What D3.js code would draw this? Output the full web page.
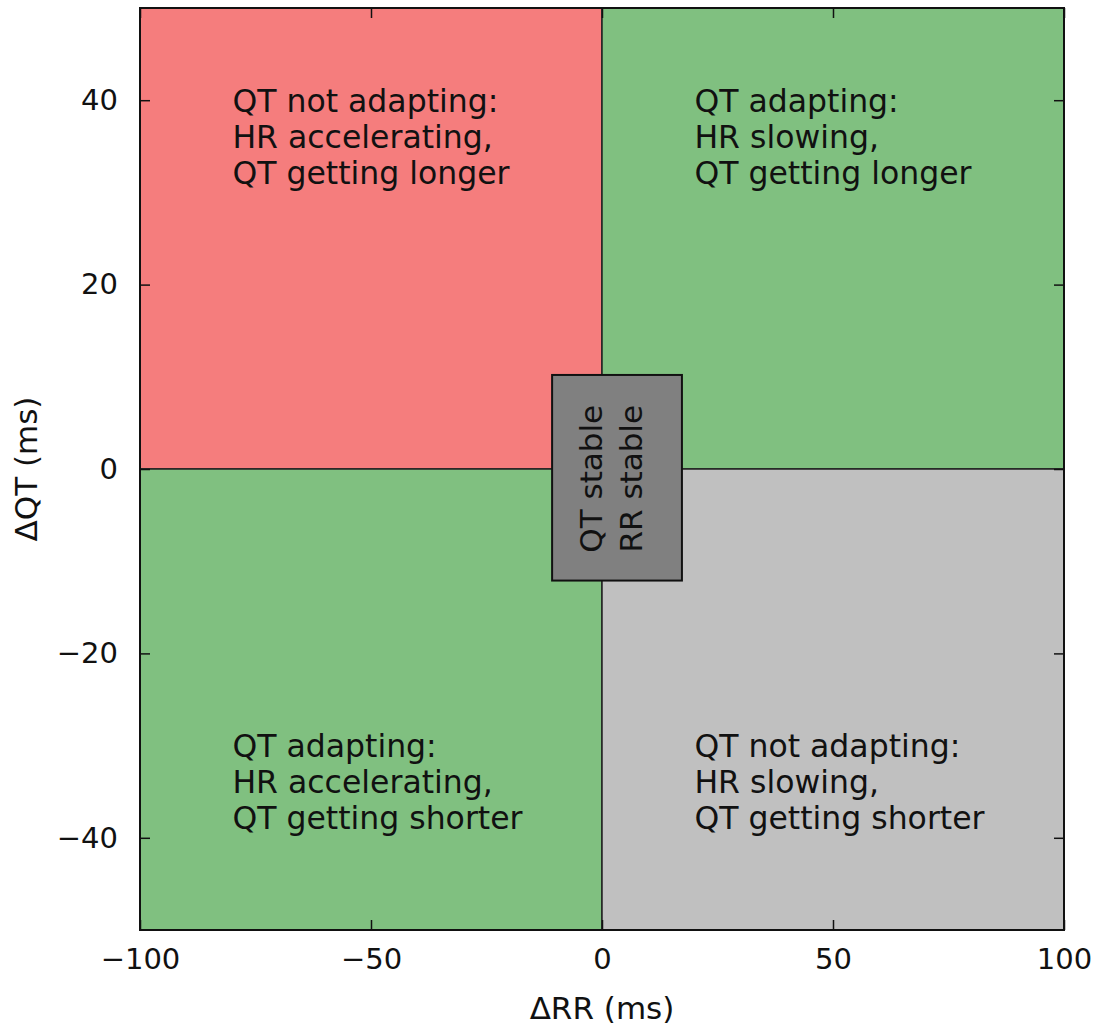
<!DOCTYPE html>
<html>
<head>
<meta charset="utf-8">
<script src="https://cdn.jsdelivr.net/npm/d3@7"></script>
<style>
  body { margin: 0; background: #fff; }
  text { font-family: "DejaVu Sans", sans-serif; fill: #111; }
</style>
</head>
<body>
<div id="chart"></div>
<script>
// quadrant regions in data coords (ΔRR, ΔQT)
var quadrants = [
  {x0: -100, x1: 0, y0: 0, y1: 50, fill: "#f57d7d"},
  {x0: 0, x1: 100, y0: 0, y1: 50, fill: "#80c080"},
  {x0: -100, x1: 0, y0: -50, y1: 0, fill: "#80c080"},
  {x0: 0, x1: 100, y0: -50, y1: 0, fill: "#c0c0c0"}
]
var notes = [
  {x: -80, y: 36, lines: ["QT not adapting:", "HR accelerating,", "QT getting longer"]},
  {x: 20, y: 36, lines: ["QT adapting:", "HR slowing,", "QT getting longer"]},
  {x: -80, y: -34, lines: ["QT adapting:", "HR accelerating,", "QT getting shorter"]},
  {x: 20, y: -34, lines: ["QT not adapting:", "HR slowing,", "QT getting shorter"]}
]
var stableBox = {x0: -10.8, x1: 17.3, y0: -12.1, y1: 10.2}
var stableLines = ["QT stable", "RR stable"]
var xTicks = [-100, -50, 0, 50, 100]
var yTicks = [-40, -20, 0, 20, 40]

var W = 1096, H = 1028
var m = {left: 140, right: 1064, top: 8, bottom: 930}

var svg = d3.select("#chart").append("svg")
  .attr("width", W).attr("height", H)

var x = d3.scaleLinear().domain([-100, 100]).range([m.left, m.right])
var y = d3.scaleLinear().domain([-50, 50]).range([m.bottom, m.top])

svg.selectAll("rect.quad").data(quadrants)
  .enter().append("rect")
    .attr("class", "quad")
    .attr("x", d => x(d.x0))
    .attr("y", d => y(d.y1))
    .attr("width", d => x(d.x1) - x(d.x0))
    .attr("height", d => y(d.y0) - y(d.y1))
    .attr("fill", d => d.fill)
    .attr("stroke", "#222")
    .attr("stroke-width", 1.5)

// annotation text, centred on the middle line
var lh = 36
notes.forEach(function(n) {
  var t = svg.append("text")
    .attr("x", x(n.x))
    .attr("y", y(n.y) + 11 - lh)
    .style("font-size", "31.5px")
  n.lines.forEach(function(l, i) {
    t.append("tspan").attr("x", x(n.x)).attr("dy", i ? lh : 0).text(l)
  })
})

// centre box with rotated text
svg.append("rect")
  .attr("x", x(stableBox.x0))
  .attr("y", y(stableBox.y1))
  .attr("width", x(stableBox.x1) - x(stableBox.x0))
  .attr("height", y(stableBox.y0) - y(stableBox.y1))
  .attr("fill", "#808080")
  .attr("stroke", "#111")
  .attr("stroke-width", 2)

var cx = (x(stableBox.x0) + x(stableBox.x1)) / 2
var cy = (y(stableBox.y0) + y(stableBox.y1)) / 2
var st = svg.append("text")
  .attr("transform", "translate(" + cx + "," + (cy + 1) + ") rotate(-90)")
  .attr("text-anchor", "middle")
  .style("font-size", "31px")
stableLines.forEach(function(l, i) {
  st.append("tspan").attr("x", 0).attr("y", i * 40 - 15).text(l)
})

// frame
svg.append("rect")
  .attr("x", m.left).attr("y", m.top)
  .attr("width", m.right - m.left).attr("height", m.bottom - m.top)
  .attr("fill", "none").attr("stroke", "#111").attr("stroke-width", 2)

// axes, ticks inward on all sides
var fmt = d => d < 0 ? "\u2212" + Math.abs(d) : String(d)
var axB = svg.append("g").attr("transform", "translate(0," + m.bottom + ")")
  .call(d3.axisBottom(x).tickValues(xTicks).tickFormat(fmt).tickSizeInner(-10).tickSizeOuter(0).tickPadding(18))
var axT = svg.append("g").attr("transform", "translate(0," + m.top + ")")
  .call(d3.axisTop(x).tickValues(xTicks).tickFormat("").tickSizeInner(-10).tickSizeOuter(0))
var axL = svg.append("g").attr("transform", "translate(" + m.left + ",0)")
  .call(d3.axisLeft(y).tickValues(yTicks).tickFormat(fmt).tickSizeInner(-10).tickSizeOuter(0).tickPadding(22))
var axR = svg.append("g").attr("transform", "translate(" + m.right + ",0)")
  .call(d3.axisRight(y).tickValues(yTicks).tickFormat("").tickSizeInner(-10).tickSizeOuter(0))

;[axB, axT, axL, axR].forEach(function(a) {
  a.select(".domain").remove()
  a.selectAll(".tick line").attr("stroke", "#111").attr("stroke-width", 1.5)
  a.selectAll(".tick text").attr("fill", "#111")
    .style("font-family", "DejaVu Sans, sans-serif").style("font-size", "29px")
})

svg.append("text")
  .attr("x", (m.left + m.right) / 2).attr("y", 1019)
  .attr("text-anchor", "middle")
  .style("font-size", "31px")
  .text("\u0394RR (ms)")

svg.append("text")
  .attr("transform", "translate(37," + (m.top + m.bottom) / 2 + ") rotate(-90)")
  .attr("text-anchor", "middle")
  .style("font-size", "31px")
  .text("\u0394QT (ms)")
</script>
</body>
</html>
